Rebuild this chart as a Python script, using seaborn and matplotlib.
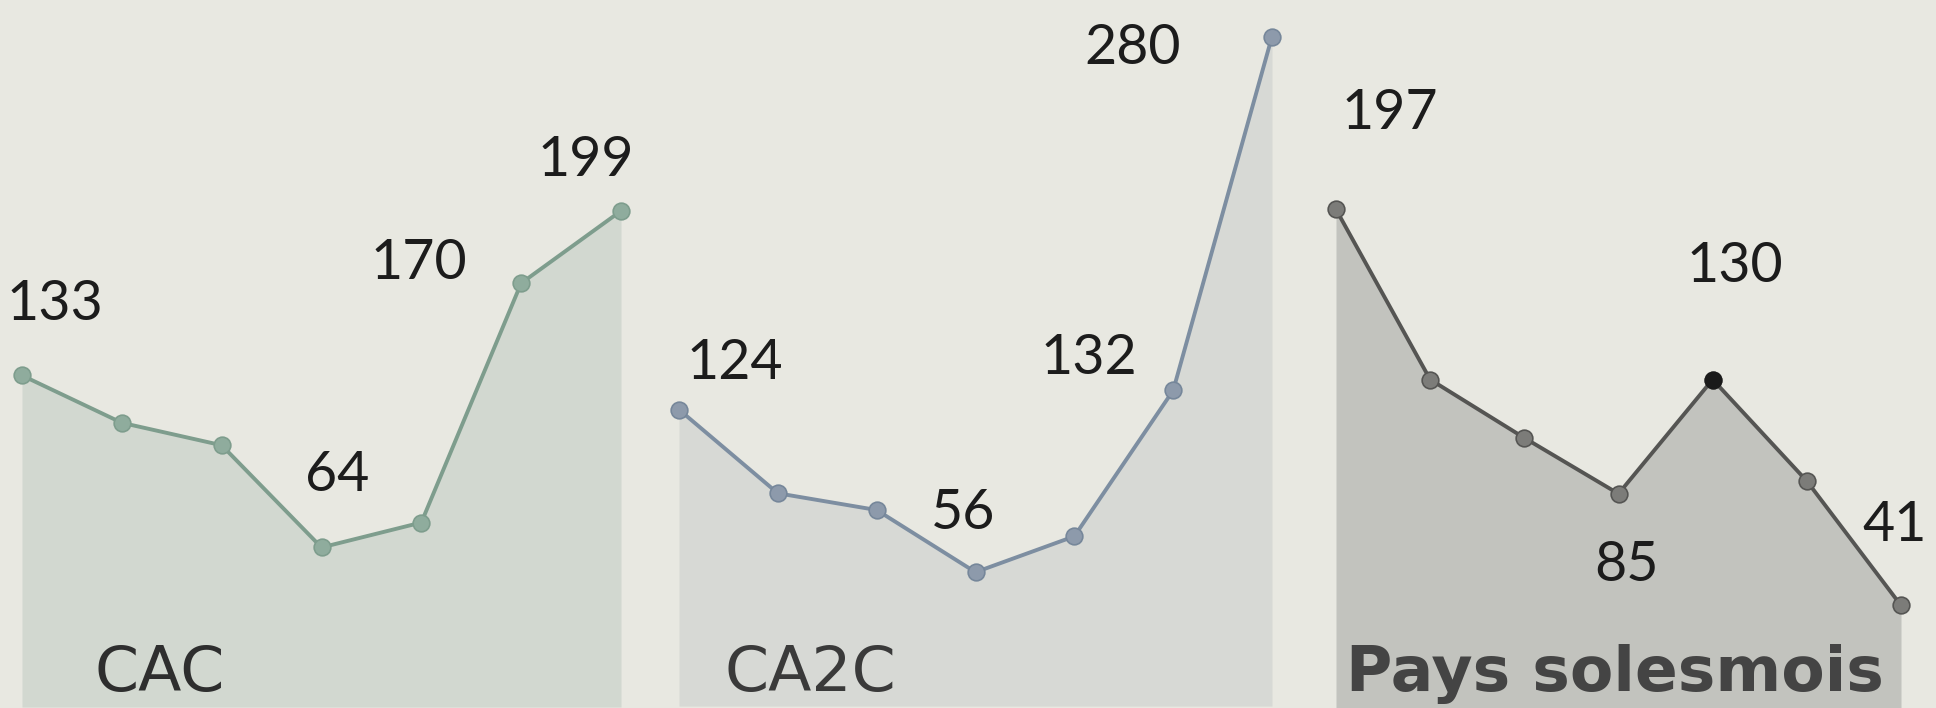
import numpy as np
import pandas as pd
import seaborn as sns
from matplotlib import pyplot as plt

# values (7 points per territory)
steps = [0, 1, 2, 3, 4, 5, 6]
cac = [133, 114, 105, 64, 74, 170, 199]
ca2c = [124, 89, 82, 56, 71, 132, 280]
solesmois = [197, 130, 107, 85, 130, 90, 41]
names = ['CAC', 'CA2C', 'Pays solesmois']

sns.set_theme(style='white')
plt.rcParams['font.family'] = ['Lato', 'DejaVu Sans']

W, H = 1936, 708
fig = plt.figure(figsize=(W / 100, H / 100), dpi=100)
fig.patch.set_facecolor('#e8e8e1')

# panel layout in pixels: left, width, ylim
panels = [
    dict(vals=cac, left=22, width=599, ylim=(-0.4, 283.6), fill='#d2d8d0',
         line='#7e9d8d', mk='#8fac9d', mke='#7e9d8d',
         labels={0: (33, 71), 3: (16, 72), 5: (-102, 20), 6: (-35, 50)},
         title_dx=73, weight='normal', tcol='#2e2e2e'),
    dict(vals=ca2c, left=679, width=593, ylim=(-0.8, 295.3), fill='#d7d9d5',
         line='#7d8ea1', mk='#8d9aab', mke='#76879a',
         labels={0: (56, 46), 3: (-12, 59), 5: (-84, 32), 6: (-139, -12)},
         title_dx=46, weight='normal', tcol='#3a3a3a'),
    dict(vals=solesmois, left=1336, width=565, ylim=(0.6, 279.5), fill='#c2c3be',
         line='#555553', mk='#7c7c79', mke='#555553',
         labels={0: (54, 96), 4: (22, 113), 3: (8, -72), 6: (-6, 80)},
         title_dx=10, weight='bold', tcol='#444444'),
]

for i, p in enumerate(panels):
    ax = fig.add_axes([p['left'] / W, 0, p['width'] / W, 1])
    ax.set_facecolor('none')
    df = pd.DataFrame({'step': steps, 'val': p['vals']})
    ax.fill_between(df['step'], 0, df['val'], color=p['fill'], lw=0, zorder=1)
    sns.lineplot(data=df, x='step', y='val', ax=ax, color=p['line'], linewidth=2.8,
                 marker='o', markersize=12, markerfacecolor=p['mk'],
                 markeredgecolor=p['mke'], markeredgewidth=1.2, clip_on=False, zorder=3)
    if i == 2:
        # highlighted point (130)
        ax.plot([steps[4]], [p['vals'][4]], 'o', ms=12, color='#1a1a1a', clip_on=False, zorder=4)
    ax.set_xlim(0, 6)
    ax.set_ylim(*p['ylim'])
    ax.set_axis_off()

    for k, (dx, dy) in p['labels'].items():
        ax.annotate(str(p['vals'][k]), xy=(steps[k], p['vals'][k]), xytext=(dx, dy),
                    textcoords='offset pixels', ha='center', va='center',
                    fontsize=40, color='#1c1c1c', zorder=5, annotation_clip=False)

    ax.annotate(names[i], xy=(0, 0), xycoords='axes fraction',
                xytext=(p['title_dx'], 17), textcoords='offset pixels',
                ha='left', va='baseline', fontsize=45.5, fontweight=p['weight'],
                family=['DejaVu Sans'], color=p['tcol'], zorder=5)

fig.savefig('out.png', dpi=100, facecolor=fig.get_facecolor())
